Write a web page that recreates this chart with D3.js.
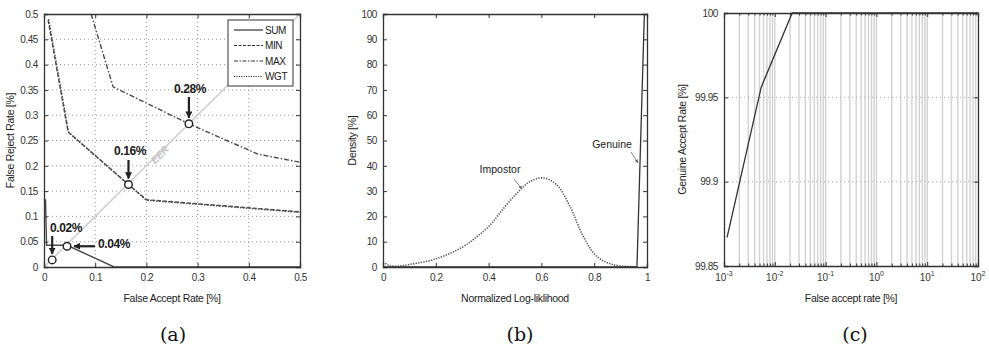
<!DOCTYPE html>
<html>
<head>
<meta charset="utf-8">
<script src="https://cdn.jsdelivr.net/npm/d3@7"></script>
<style>
  body { margin: 0; background: #fff; }
  svg { display: block; font-family: "Liberation Sans", Arial, sans-serif; }
  .tick text { font-size: 10px; fill: #333; letter-spacing: -0.4px; }
  .domain { stroke: #333; }
  .tick line { stroke: #333; }
</style>
</head>
<body>
<svg id="chart" width="989" height="350"></svg>
<script>
/// DATA ///
// (a) FAR / FRR curves, [FAR, FRR] in %
var sumCurve = [[0.003, 0.134], [0.005, 0.043], [0.045, 0.043], [0.137, 0], [0.5, 0]];
var minCurve = [[0.008, 0.488], [0.047, 0.267], [0.165, 0.163], [0.2, 0.133], [0.5, 0.109]];
var maxCurve = [[0.092, 0.5], [0.135, 0.356], [0.283, 0.283], [0.418, 0.223], [0.5, 0.207]];
var wgtCurve = [[0.009, 0.49], [0.048, 0.266], [0.166, 0.162], [0.2, 0.132], [0.5, 0.108]];
var eerPoints = [[0.016, 0.014, "0.02%"], [0.045, 0.041, "0.04%"], [0.165, 0.163, "0.16%"], [0.283, 0.283, "0.28%"]];
var legendNames = ["SUM", "MIN", "MAX", "WGT"];

// (b) score densities
var impostorX = [0, 0.02, 0.052, 0.1, 0.2, 0.3, 0.35, 0.405, 0.455, 0.506, 0.557, 0.607, 0.658, 0.708, 0.759, 0.81, 0.873, 0.96];
var impostorY = [2, 0.8, 0.3, 1, 3.2, 7.8, 11.5, 16.5, 23, 29, 33.8, 35.2, 32.5, 24, 12, 4.2, 0.9, 0.1];
var genuineX = [0, 0.962, 0.99];
var genuineY = [0, 0, 100];

// (c) ROC, FAR in % (log) vs GAR in %
var rocFar = [0.00115, 0.0054, 0.022, 100];
var rocGar = [99.867, 99.956, 100, 100];

var ticksA = [0, 0.1, 0.2, 0.3, 0.4, 0.5];
var ticksAy = [0, 0.05, 0.1, 0.15, 0.2, 0.25, 0.3, 0.35, 0.4, 0.45, 0.5];
var ticksBx = [0, 0.2, 0.4, 0.6, 0.8, 1];
var ticksBy = [0, 10, 20, 30, 40, 50, 60, 70, 80, 90, 100];
var ticksCy = [99.85, 99.9, 99.95, 100];
var decadesC = [-3, -2, -1, 0, 1, 2];

var svg = d3.select("#chart");

svg.append("defs").append("marker")
  .attr("id", "arrowBig").attr("viewBox", "0 0 10 10")
  .attr("refX", 9).attr("refY", 5)
  .attr("markerWidth", 3.2).attr("markerHeight", 3.2)
  .attr("orient", "auto")
  .append("path").attr("d", "M0,0 L10,5 L0,10 z").attr("fill", "#222");
svg.select("defs").append("marker")
  .attr("id", "arrowSmall").attr("viewBox", "0 0 10 10")
  .attr("refX", 9).attr("refY", 5)
  .attr("markerWidth", 5).attr("markerHeight", 5)
  .attr("orient", "auto")
  .append("path").attr("d", "M0,1 L10,5 L0,9 z").attr("fill", "#666");

// HELPER: MATLAB style box with inward ticks
function drawBox(g, x, y, xTicks, yTicks, xFmt, yFmt) {
  g.append("g").attr("transform", "translate(0," + y.range()[0] + ")")
    .call(d3.axisBottom(x).tickValues(xTicks).tickSize(-4).tickPadding(7).tickFormat(xFmt));
  g.append("g").attr("transform", "translate(0," + y.range()[1] + ")")
    .call(d3.axisTop(x).tickValues(xTicks).tickSize(-4).tickFormat(""));
  g.append("g").attr("transform", "translate(" + x.range()[0] + ",0)")
    .call(d3.axisLeft(y).tickValues(yTicks).tickSize(-4).tickPadding(6).tickFormat(yFmt));
  g.append("g").attr("transform", "translate(" + x.range()[1] + ",0)")
    .call(d3.axisRight(y).tickValues(yTicks).tickSize(-4).tickFormat(""));
  g.selectAll(".domain").attr("stroke-width", 1.3);
}

function caption(cx, txt) {
  svg.append("text").attr("x", cx).attr("y", 341).attr("text-anchor", "middle")
    .style("font-family", "'DejaVu Serif', 'Liberation Serif', serif")
    .style("font-size", "19px").attr("fill", "#111").text(txt);
}

function axisLabels(g, x, y, xl, yl, yx) {
  g.append("text").attr("x", (x.range()[0] + x.range()[1]) / 2).attr("y", 302)
    .attr("text-anchor", "middle").style("font-size", "10.5px").style("letter-spacing", "-0.3px")
    .attr("fill", "#222").text(xl);
  g.append("text")
    .attr("transform", "translate(" + yx + "," + (y.range()[0] + y.range()[1]) / 2 + ") rotate(-90)")
    .attr("text-anchor", "middle").style("font-size", "10.5px").style("letter-spacing", "-0.3px")
    .attr("fill", "#222").text(yl);
}

/// PANEL (a) ///
var xa = d3.scaleLinear().domain([0, 0.5]).range([44, 300]);
var ya = d3.scaleLinear().domain([0, 0.5]).range([267, 14]);
var ga = svg.append("g");

ga.selectAll(".grid-x").data(ticksA.slice(1, -1)).enter().append("line")
  .attr("x1", function (d) { return xa(d); }).attr("x2", function (d) { return xa(d); })
  .attr("y1", ya(0)).attr("y2", ya(0.5))
  .attr("stroke", "#999").attr("stroke-dasharray", "1,3");
ga.selectAll(".grid-y").data(ticksAy.slice(1, -1)).enter().append("line")
  .attr("y1", function (d) { return ya(d); }).attr("y2", function (d) { return ya(d); })
  .attr("x1", xa(0)).attr("x2", xa(0.5))
  .attr("stroke", "#999").attr("stroke-dasharray", "1,3");

// EER diagonal
ga.append("line").attr("x1", xa(0)).attr("y1", ya(0)).attr("x2", xa(0.5)).attr("y2", ya(0.5))
  .attr("stroke", "#cfcfcf").attr("stroke-width", 1.6);
ga.append("text")
  .attr("transform", "translate(" + xa(0.226) + "," + ya(0.222) + ") rotate(-45)")
  .attr("text-anchor", "middle").attr("dy", "0.35em")
  .style("font-size", "10px").style("font-weight", "bold").style("font-style", "italic")
  .attr("fill", "#c4c4c4").text("EER");

var lineA = d3.line().x(function (d) { return xa(d[0]); }).y(function (d) { return ya(d[1]); });
var curves = [
  { data: wgtCurve, dash: "1.5,1.5" },
  { data: minCurve, dash: "4,2" },
  { data: maxCurve, dash: "5,2,1.5,2" },
  { data: sumCurve, dash: null }
];
ga.selectAll(".curve").data(curves).enter().append("path")
  .attr("class", "curve")
  .attr("d", function (d) { return lineA(d.data); })
  .attr("fill", "none").attr("stroke", "#4a4a4a").attr("stroke-width", 1.4)
  .attr("stroke-dasharray", function (d) { return d.dash; });

ga.selectAll(".eer").data(eerPoints).enter().append("circle")
  .attr("cx", function (d) { return xa(d[0]); }).attr("cy", function (d) { return ya(d[1]); })
  .attr("r", 3.8).attr("fill", "#fff").attr("stroke", "#222").attr("stroke-width", 1.4);

// annotation labels
var annA = [
  { p: 3, tx: 190, ty: 93, ax1: [xa(0.283), 97], ax2: [xa(0.283), ya(0.283) - 6] },
  { p: 2, tx: 130, ty: 155, ax1: [xa(0.165), 160], ax2: [xa(0.165), ya(0.163) - 6] },
  { p: 0, tx: 66, ty: 232, ax1: [xa(0.016), 236], ax2: [xa(0.016), ya(0.014) - 6] },
  { p: 1, tx: 114, ty: 248, ax1: [95, ya(0.041)], ax2: [xa(0.045) + 7, ya(0.041)] }
];
annA.forEach(function (a) {
  ga.append("text").attr("x", a.tx).attr("y", a.ty).attr("text-anchor", "middle")
    .style("font-size", "12px").style("font-weight", "bold").style("letter-spacing", "-0.4px")
    .attr("fill", "#1a1a1a").text(eerPoints[a.p][2]);
  ga.append("line").attr("x1", a.ax1[0]).attr("y1", a.ax1[1]).attr("x2", a.ax2[0]).attr("y2", a.ax2[1])
    .attr("stroke", "#222").attr("stroke-width", 2.2).attr("marker-end", "url(#arrowBig)");
});

drawBox(ga, xa, ya, ticksA, ticksAy, d3.format("~g"), d3.format("~g"));

// legend
var lg = ga.append("g").attr("transform", "translate(228,20)");
lg.append("rect").attr("width", 65).attr("height", 66).attr("fill", "#fff")
  .attr("stroke", "#333").attr("stroke-width", 1);
var dashes = [null, "3,1.5", "4,1.5,1.5,1.5", "1.2,1.2"];
legendNames.forEach(function (n, i) {
  var yy = 10 + i * 15.5;
  lg.append("line").attr("x1", 6).attr("x2", 35).attr("y1", yy).attr("y2", yy)
    .attr("stroke", "#333").attr("stroke-width", 1.2).attr("stroke-dasharray", dashes[i]);
  lg.append("text").attr("x", 37).attr("y", yy).attr("dy", "0.35em")
    .style("font-size", "10px").style("letter-spacing", "-0.4px").attr("fill", "#222").text(n);
});

axisLabels(ga, xa, ya, "False Accept Rate [%]", "False Reject Rate [%]", 14);
caption(173, "(a)");

/// PANEL (b) ///
var xb = d3.scaleLinear().domain([0, 1]).range([383, 647]);
var yb = d3.scaleLinear().domain([0, 100]).range([267, 14]);
var gb = svg.append("g");

var lineBc = d3.line().x(function (d) { return xb(d[0]); }).y(function (d) { return yb(d[1]); })
  .curve(d3.curveCatmullRom);
gb.append("path").attr("d", lineBc(d3.zip(impostorX, impostorY)))
  .attr("fill", "none").attr("stroke", "#555").attr("stroke-width", 1.6).attr("stroke-dasharray", "1.3,1.3");
gb.append("path").attr("d", d3.line().x(function (d) { return xb(d[0]); }).y(function (d) { return yb(d[1]); })(d3.zip(genuineX, genuineY)))
  .attr("fill", "none").attr("stroke", "#333").attr("stroke-width", 1.3);

drawBox(gb, xb, yb, ticksBx, ticksBy, d3.format("~g"), d3.format("~g"));

gb.append("text").attr("x", 500).attr("y", 173).attr("text-anchor", "middle")
  .style("font-size", "10.5px").attr("fill", "#222").text("Impostor");
gb.append("line").attr("x1", 514).attr("y1", 179).attr("x2", 522).attr("y2", 189)
  .attr("stroke", "#666").attr("stroke-width", 0.8).attr("marker-end", "url(#arrowSmall)");
gb.append("text").attr("x", 612).attr("y", 148).attr("text-anchor", "middle")
  .style("font-size", "10.5px").attr("fill", "#222").text("Genuine");
gb.append("line").attr("x1", 631).attr("y1", 152).attr("x2", 638).attr("y2", 163)
  .attr("stroke", "#666").attr("stroke-width", 0.8).attr("marker-end", "url(#arrowSmall)");

axisLabels(gb, xb, yb, "Normalized Log-liklihood", "Density [%]", 356);
caption(520, "(b)");

/// PANEL (c) ///
var xc = d3.scaleLog().domain([1e-3, 1e2]).range([724, 978]);
var yc = d3.scaleLinear().domain([99.85, 100]).range([266, 13]);
var gc = svg.append("g");

var minorC = [];
decadesC.slice(0, -1).forEach(function (k) {
  for (var m = 1; m <= 9; m++) minorC.push(m * Math.pow(10, k));
});
minorC.push(100);

gc.selectAll(".vgrid").data(minorC.slice(1, -1)).enter().append("line")
  .attr("x1", function (d) { return xc(d); }).attr("x2", function (d) { return xc(d); })
  .attr("y1", yc(99.85)).attr("y2", yc(100))
  .attr("stroke", "#d2d2d2").attr("stroke-width", 1.4);
gc.selectAll(".hgrid").data(ticksCy.slice(1, -1)).enter().append("line")
  .attr("y1", function (d) { return yc(d); }).attr("y2", function (d) { return yc(d); })
  .attr("x1", xc(1e-3)).attr("x2", xc(1e2))
  .attr("stroke", "#aaa").attr("stroke-dasharray", "1,3");

gc.append("path")
  .attr("d", d3.line().x(function (d) { return xc(d[0]); }).y(function (d) { return yc(d[1]); })(d3.zip(rocFar, rocGar)))
  .attr("fill", "none").attr("stroke", "#333").attr("stroke-width", 1.3);

drawBox(gc, xc, yc, minorC, ticksCy, function () { return ""; }, d3.format("~g"));
// shorter minor ticks
gc.selectAll(".tick line").filter(function (d) {
  return minorC.indexOf(d) >= 0 && Math.abs(Math.log10(d) - Math.round(Math.log10(d))) > 1e-9;
}).attr("y2", function () { return +d3.select(this).attr("y2") > 0 ? 2.5 : -2.5; });

// decade labels with superscripts
var decLbl = gc.selectAll(".dec").data(decadesC).enter().append("text")
  .attr("x", function (d) { return xc(Math.pow(10, d)); }).attr("y", 281)
  .attr("text-anchor", "middle").style("font-size", "10px").attr("fill", "#333");
decLbl.append("tspan").text("10");
decLbl.append("tspan").attr("dy", -5).style("font-size", "7px").text(function (d) { return d; });

axisLabels(gc, xc, yc, "False accept rate [%]", "Genuine Accept Rate [%]", 686);
caption(855, "(c)");
</script>
</body>
</html>
